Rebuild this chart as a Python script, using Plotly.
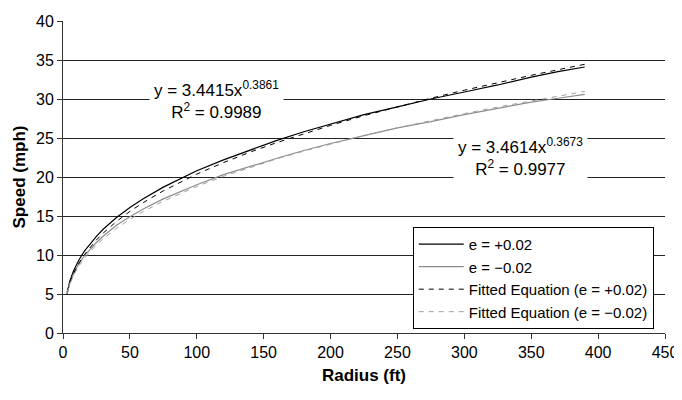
import plotly.graph_objects as go

# Radius (ft)
radius = [3, 5, 8, 12, 16, 20, 25, 30, 40, 50, 60, 75, 90, 100, 120, 140,
          160, 180, 200, 225, 250, 275, 300, 325, 350, 370, 390]

# Measured speeds (mph)
speed_pos = [5.0, 6.6, 8.0, 9.4, 10.5, 11.4, 12.4, 13.3, 14.8, 16.1, 17.2, 18.7,
             20.0, 20.8, 22.2, 23.5, 24.7, 25.8, 26.8, 28.0, 29.0, 30.0, 30.9,
             31.8, 32.8, 33.5, 34.1]
speed_neg = [5.0, 6.3, 7.6, 8.9, 9.9, 10.7, 11.6, 12.4, 13.8, 14.9, 15.9, 17.2,
             18.3, 19.0, 20.3, 21.4, 22.4, 23.4, 24.3, 25.3, 26.3, 27.1, 28.0,
             28.8, 29.6, 30.1, 30.6]

# Fitted equation curves
fit_pos = [5.26, 6.41, 7.68, 8.98, 10.04, 10.94, 11.93, 12.80, 14.30, 15.59, 16.72,
           18.23, 19.56, 20.37, 21.85, 23.20, 24.42, 25.56, 26.62, 27.86, 29.01,
           30.10, 31.13, 32.11, 33.04, 33.75, 34.45]
fit_neg = [5.18, 6.25, 7.43, 8.62, 9.58, 10.40, 11.29, 12.07, 13.42, 14.57, 15.57,
           16.90, 18.07, 18.79, 20.09, 21.26, 22.33, 23.32, 24.24, 25.31, 26.31,
           27.24, 28.13, 28.97, 29.76, 30.38, 30.97]

series_names = ["e = +0.02", "e = \u22120.02",
                "Fitted Equation (e = +0.02)", "Fitted Equation (e = \u22120.02)"]

eq_pos = "y = 3.4415x<sup>0.3861</sup><br>R<sup>2</sup> = 0.9989"
eq_neg = "y = 3.4614x<sup>0.3673</sup><br>R<sup>2</sup> = 0.9977"

FONT = "Liberation Sans, Arial, sans-serif"

fig = go.Figure()
fig.add_trace(go.Scatter(x=radius, y=speed_pos, mode="lines", name=series_names[0],
                         line=dict(color="#000000", width=1.2)))
fig.add_trace(go.Scatter(x=radius, y=speed_neg, mode="lines", name=series_names[1],
                         line=dict(color="#8c8c8c", width=1.2)))
fig.add_trace(go.Scatter(x=radius, y=fit_pos, mode="lines", name=series_names[2],
                         line=dict(color="#000000", width=1, dash="5px,5px")))
fig.add_trace(go.Scatter(x=radius, y=fit_neg, mode="lines", name=series_names[3],
                         line=dict(color="#a0a0a0", width=1, dash="5px,5px")))

fig.add_annotation(x=115, y=29.9, xref="x", yref="y", text=eq_pos, showarrow=False,
                   bgcolor="white", borderpad=4, align="center",
                   font=dict(family=FONT, size=17, color="black"))
fig.add_annotation(x=342, y=22.6, xref="x", yref="y", text=eq_neg, showarrow=False,
                   bgcolor="white", borderpad=4, align="center",
                   font=dict(family=FONT, size=17, color="black"))

fig.update_layout(
    width=674, height=392,
    margin=dict(l=55, r=17, t=13, b=67, autoexpand=False),
    paper_bgcolor="white", plot_bgcolor="white",
    font=dict(family=FONT, size=16, color="black"),
    showlegend=True,
    legend=dict(x=0.581, y=0.34, xanchor="left", yanchor="top",
                bgcolor="white", bordercolor="black", borderwidth=1,
                font=dict(family=FONT, size=15, color="black"),
                itemwidth=45, tracegroupgap=0),
    xaxis=dict(range=[0, 450], tickvals=[0, 50, 100, 150, 200, 250, 300, 350, 400, 450],
               automargin=False,
               showgrid=False, zeroline=False, showline=True, linecolor="#333333",
               linewidth=1, ticks="outside", ticklen=5, tickcolor="#333333",
               tickfont=dict(family=FONT, size=16),
               title=dict(text="<b>Radius (ft)</b>", font=dict(family=FONT, size=17), standoff=8)),
    yaxis=dict(range=[0, 40], tickvals=[0, 5, 10, 15, 20, 25, 30, 35, 40],
               automargin=False,
               showgrid=True, gridcolor="#222222", gridwidth=1, zeroline=False,
               showline=True, linecolor="#333333", linewidth=1,
               ticks="outside", ticklen=5, tickcolor="#333333",
               tickfont=dict(family=FONT, size=16),
               title=dict(text="<b>Speed (mph)</b>", font=dict(family=FONT, size=17), standoff=6)),
)

fig.write_html("out.html")
